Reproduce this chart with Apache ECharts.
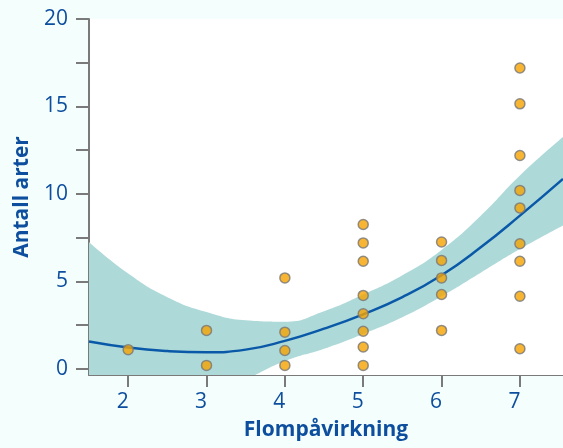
<!DOCTYPE html>
<html>
<head>
<meta charset="utf-8">
<script src="https://cdn.jsdelivr.net/npm/echarts@6/dist/echarts.min.js"></script>
<style>
  html, body { margin: 0; padding: 0; background: #f4fefc; }
  #chart { width: 563px; height: 448px; }
</style>
</head>
<body>
<div id="chart"></div>
<script>
  // observed points (flood impact vs number of species)
  const obsX = [2, 3, 3, 4, 4, 4, 4, 5, 5, 5, 5, 5, 5, 5, 5, 6, 6, 6, 6, 6, 7, 7, 7, 7, 7, 7, 7, 7, 7];
  const obsY = [1.1, 2.2, 0.2, 5.2, 2.1, 1.05, 0.2, 8.25, 7.2, 6.15, 4.2, 3.15, 2.15, 1.25, 0.2,
                7.25, 6.2, 5.2, 4.25, 2.2, 17.2, 15.15, 12.2, 10.2, 9.2, 7.15, 6.15, 4.15, 1.15];

  // fitted curve and confidence band
  const curveX = [1.5, 2, 2.5, 3, 3.5, 4, 4.5, 5, 5.5, 6, 6.5, 7, 7.55];
  const fitY   = [1.56, 1.22, 1.02, 0.95, 1.1, 1.6, 2.3, 3.12, 4.1, 5.35, 6.95, 8.76, 10.86];
  const upperY = [7.25, 5.45, 4.1, 3.25, 2.78, 2.7, 3.3, 4.25, 5.35, 6.8, 8.75, 11.05, 13.25];
  const lowerY = [-4.1, -3.0, -2.1, -1.35, -0.58, 0.45, 1.15, 2.0, 2.95, 4.15, 5.5, 6.85, 8.2];

  const xTicks = [2, 3, 4, 5, 6, 7];
  const yTicks = [0, 2.5, 5, 7.5, 10, 12.5, 15, 17.5, 20];
  const yLabels = [0, 5, 10, 15, 20];

  const blue = '#0d4f9e';
  const axisGray = '#7a7a7a';

  const chart = echarts.init(document.getElementById('chart'));
  chart.setOption({
    backgroundColor: '#f4fefc',
    animation: false,
    grid: {
      left: 89, right: 0, top: 19, bottom: 73,
      outerBoundsMode: 'none',
      show: true, backgroundColor: '#ffffff', borderWidth: 0
    },
    xAxis: {
      type: 'value',
      min: 1.5,
      max: 7.55,
      name: 'Flompåvirkning',
      nameLocation: 'middle',
      nameGap: 45,
      nameMoveOverlap: false,
      nameTextStyle: { color: blue, fontSize: 21, fontWeight: 'bold', fontFamily: 'Open Sans' },
      axisLine: { show: true, onZero: false, lineStyle: { color: axisGray, width: 2 } },
      axisTick: { show: true, customValues: xTicks, length: 12, lineStyle: { color: axisGray, width: 2 } },
      axisLabel: {
        customValues: xTicks, margin: 17, padding: [0, 11, 0, 0],
        color: blue, fontSize: 21, fontFamily: 'Open Sans'
      },
      splitLine: { show: false }
    },
    yAxis: {
      type: 'value',
      min: -0.35,
      max: 20,
      name: 'Antall arter',
      nameLocation: 'middle',
      nameGap: 56,
      nameMoveOverlap: false,
      nameTextStyle: { color: blue, fontSize: 21, fontWeight: 'bold', fontFamily: 'Open Sans' },
      axisLine: { show: true, onZero: false, lineStyle: { color: axisGray, width: 2 } },
      axisTick: { show: true, customValues: yTicks, length: 13, lineStyle: { color: axisGray, width: 2 } },
      axisLabel: { customValues: yLabels, margin: 21, color: blue, fontSize: 21, fontFamily: 'Open Sans' },
      splitLine: { show: false }
    },
    series: [
      {
        // upper edge of the band, filled down to the axis
        name: 'upper',
        type: 'line',
        smooth: true,
        symbol: 'none',
        lineStyle: { width: 0, opacity: 0 },
        areaStyle: { color: '#aed9d9', opacity: 1, origin: 'start' },
        data: curveX.map((x, i) => [x, upperY[i]]),
        z: 1
      },
      {
        // lower edge: white fill cuts the band from below
        name: 'lower',
        type: 'line',
        smooth: true,
        symbol: 'none',
        lineStyle: { width: 0, opacity: 0 },
        areaStyle: { color: '#ffffff', opacity: 1, origin: 'start' },
        data: curveX.map((x, i) => [x, lowerY[i]]),
        z: 2
      },
      {
        name: 'fit',
        type: 'line',
        smooth: true,
        symbol: 'none',
        lineStyle: { color: '#0a59a8', width: 2.5 },
        data: curveX.map((x, i) => [x, fitY[i]]),
        z: 3
      },
      {
        name: 'obs',
        type: 'scatter',
        symbolSize: 10,
        itemStyle: { color: '#f5a300', borderColor: '#777777', borderWidth: 1.5 },
        data: obsX.map((x, i) => [x, obsY[i]]),
        z: 4
      }
    ]
  });
</script>
</body>
</html>
